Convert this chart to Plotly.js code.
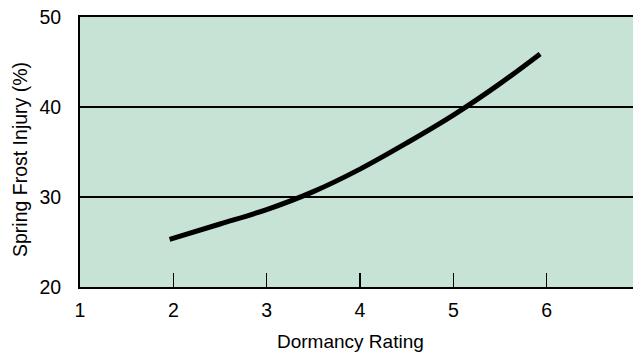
<!DOCTYPE html>
<html>
<head>
<meta charset="utf-8">
<script src="https://cdn.plot.ly/plotly-3.0.1.min.js"></script>
<style>
html,body{margin:0;padding:0;overflow:hidden;background:#fff;width:633px;height:354px;}
#chart{width:660px;height:354px;}
</style>
</head>
<body>
<div id="chart"></div>
<script>
// Data
const dormancyRating = [1.96, 2.5, 3, 3.5, 4, 4.5, 5, 5.5, 5.93];
const frostInjury = [25.3, 27.0, 28.6, 30.6, 33.1, 36.0, 39.1, 42.6, 45.9];
const xTicks = [1, 2, 3, 4, 5, 6, 7];
const yTicks = [20, 30, 40, 50];
const xTitle = 'Dormancy Rating';
const yTitle = 'Spring Frost Injury (%)';

const font = '"Liberation Sans", Arial, Helvetica, sans-serif';

const trace = {
  x: dormancyRating,
  y: frostInjury,
  type: 'scatter',
  mode: 'lines',
  line: {color: '#000', width: 5, shape: 'spline', smoothing: 1},
  hoverinfo: 'skip'
};

const layout = {
  width: 660,
  height: 354,
  margin: {l: 80, r: 20, t: 17, b: 67, pad: 0},
  paper_bgcolor: '#fff',
  plot_bgcolor: 'rgb(198,227,214)',
  showlegend: false,
  font: {family: font, size: 19.5, color: '#000'},
  xaxis: {
    range: [1, 7],
    tickvals: xTicks,
    ticktext: xTicks.map(String),
    ticks: 'inside',
    ticklen: 14,
    tickwidth: 1.5,
    tickcolor: '#000',
    showline: true,
    linecolor: '#000',
    linewidth: 2,
    mirror: true,
    showgrid: false,
    zeroline: false,
    ticklabelstandoff: 5,
    ticklabeloverflow: 'allow',
    tickfont: {family: font, size: 19.5, color: '#000'}
  },
  yaxis: {
    range: [20, 50],
    tickvals: yTicks,
    ticktext: yTicks.map(String),
    ticks: '',
    showline: true,
    linecolor: '#000',
    linewidth: 2,
    mirror: true,
    showgrid: true,
    gridcolor: '#000',
    gridwidth: 1.5,
    zeroline: false,
    ticklabelstandoff: 13,
    ticklabeloverflow: 'allow',
    tickfont: {family: font, size: 19.5, color: '#000'}
  },
  annotations: [
    {
      text: xTitle, xref: 'paper', yref: 'paper',
      x: (350 - 80) / 560, y: (287 - 329) / 270,
      xanchor: 'center', yanchor: 'top', showarrow: false,
      font: {family: font, size: 19, color: '#000'}
    },
    {
      text: yTitle, xref: 'paper', yref: 'paper',
      x: (20 - 80) / 560, y: (287 - 160) / 270,
      xanchor: 'center', yanchor: 'middle', textangle: -90, showarrow: false,
      font: {family: font, size: 19.5, color: '#000'}
    }
  ]
};

Plotly.newPlot('chart', [trace], layout, {staticPlot: true, displayModeBar: false});
</script>
</body>
</html>
